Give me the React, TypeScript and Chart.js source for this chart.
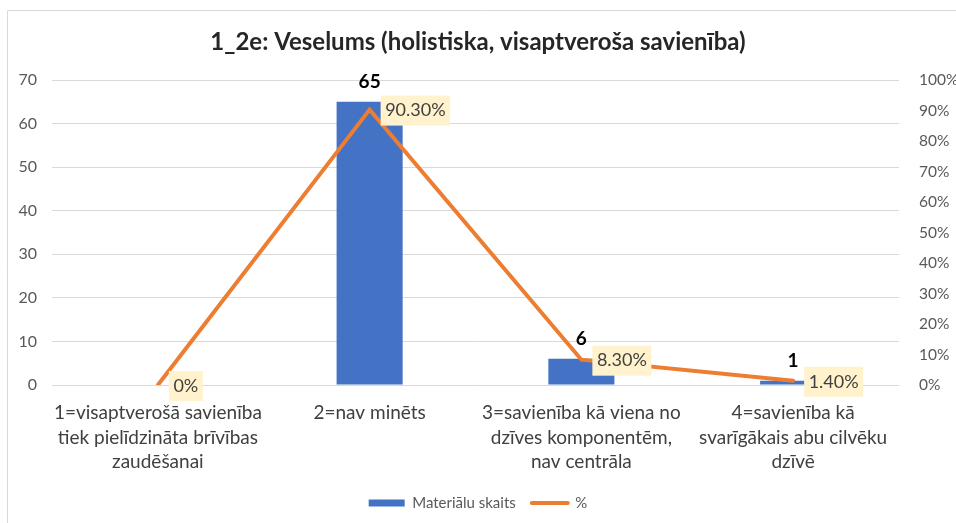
import React, { useEffect, useRef } from 'react';
import { Chart, registerables } from 'chart.js';

Chart.register(...registerables);

const TITLE = '1_2e: Veselums (holistiska, visaptveroša savienība)';
const categories: string[][] = [
  ['1=visaptverošā savienība', 'tiek pielīdzināta brīvības', 'zaudēšanai'],
  ['2=nav minēts'],
  ['3=savienība kā viena no', 'dzīves komponentēm,', 'nav centrāla'],
  ['4=savienība kā', 'svarīgākais abu cilvēku', 'dzīvē'],
];
const countLabel = 'Materiālu skaits';
const countValues = [0, 65, 6, 1];
const percentLabel = '%';
const percentValues = [0, 90.3, 8.3, 1.4];
const percentLabels = ['0%', '90.30%', '8.30%', '1.40%'];
const leftMax = 70;
const rightMax = 100;
const tickStep = 10;

const FONT = 'Lato';
const BLUE = '#4472C4';
const ORANGE = '#ED7D31';

const framePlugin = {
  id: 'frame',
  beforeDraw(chart: any) {
    const { ctx, width, height } = chart;
    ctx.save();
    ctx.fillStyle = '#ffffff';
    ctx.fillRect(0, 0, width, height);
    ctx.strokeStyle = '#d9d9d9';
    ctx.lineWidth = 1;
    ctx.beginPath();
    ctx.moveTo(7.5, height);
    ctx.lineTo(7.5, 10.5);
    ctx.lineTo(width, 10.5);
    ctx.stroke();
    ctx.restore();
  },
};

const labelPlugin = {
  id: 'valueLabels',
  afterDatasetsDraw(chart: any) {
    const ctx = chart.ctx;
    ctx.save();
    const barMeta = chart.getDatasetMeta(0);
    ctx.font = `bold 19px ${FONT}`;
    ctx.fillStyle = '#000000';
    ctx.textAlign = 'center';
    ctx.textBaseline = 'middle';
    barMeta.data.forEach((el: any, i: number) => {
      const v = countValues[i];
      if (!v) return;
      ctx.fillText(String(v), el.x, el.y - 20);
    });
    const lineMeta = chart.getDatasetMeta(1);
    ctx.font = `18px ${FONT}`;
    ctx.textAlign = 'left';
    lineMeta.data.forEach((el: any, i: number) => {
      const text = percentLabels[i];
      const w = ctx.measureText(text).width + 9;
      const h = 30;
      const x0 = el.x + 11;
      const cy = el.y + 1;
      ctx.fillStyle = '#FFF2CC';
      ctx.fillRect(x0, cy - h / 2, w, h);
      ctx.fillStyle = '#404040';
      ctx.fillText(text, x0 + 4.5, cy);
    });
    ctx.restore();
  },
};

export default function App() {
  const ref = useRef<HTMLCanvasElement | null>(null);

  useEffect(() => {
    if (!ref.current) return;
    const chart = new Chart(ref.current, {
      type: 'bar',
      data: {
        labels: categories,
        datasets: [
          {
            type: 'bar',
            label: countLabel,
            data: countValues,
            backgroundColor: BLUE,
            borderWidth: 0,
            categoryPercentage: 1,
            barPercentage: 0.312,
            yAxisID: 'y',
            order: 1,
          },
          {
            type: 'line',
            label: percentLabel,
            data: percentValues,
            borderColor: ORANGE,
            backgroundColor: ORANGE,
            borderWidth: 4,
            pointRadius: 0,
            tension: 0,
            borderCapStyle: 'round',
            yAxisID: 'y1',
            order: 0,
          },
        ],
      } as any,
      options: {
        responsive: false,
        animation: false,
        layout: { padding: { top: 0, left: 0, right: 0, bottom: 2.5 } },
        plugins: {
          title: {
            display: true,
            text: TITLE,
            color: '#262626',
            font: { family: FONT, size: 24, weight: 'bold', lineHeight: 1 },
            padding: { top: 30, bottom: 26 },
          },
          legend: {
            position: 'bottom',
            labels: {
              usePointStyle: true,
              pointStyleWidth: 36,
              boxHeight: 7,
              padding: 16,
              color: '#595959',
              font: { family: FONT, size: 15 },
              generateLabels: () => [
                {
                  text: countLabel,
                  fillStyle: BLUE,
                  strokeStyle: BLUE,
                  lineWidth: 0,
                  pointStyle: 'rect',
                  datasetIndex: 0,
                  hidden: false,
                  fontColor: '#595959',
                },
                {
                  text: percentLabel,
                  fillStyle: ORANGE,
                  strokeStyle: ORANGE,
                  lineWidth: 4,
                  lineCap: 'round',
                  pointStyle: 'line',
                  datasetIndex: 1,
                  hidden: false,
                  fontColor: '#595959',
                },
              ],
            },
          },
          tooltip: { enabled: false },
        },
        scales: {
          x: {
            offset: true,
            grid: { display: false, drawTicks: false },
            border: { display: false },
            ticks: {
              autoSkip: false,
              maxRotation: 0,
              padding: 15.75,
              color: '#404040',
              font: { family: FONT, size: 19, lineHeight: 24.5 / 19 },
            },
            afterFit: (s: any) => {
              s.height = 94.5;
            },
          },
          y: {
            position: 'left',
            min: 0,
            max: leftMax,
            ticks: {
              stepSize: tickStep,
              padding: 15,
              color: '#595959',
              font: { family: FONT, size: 16 },
            },
            grid: { color: '#d9d9d9', lineWidth: 1, drawTicks: false },
            border: { display: false },
            afterFit: (s: any) => {
              s.width = 52;
            },
          },
          y1: {
            position: 'right',
            min: 0,
            max: rightMax,
            ticks: {
              stepSize: tickStep,
              padding: 20,
              color: '#595959',
              font: { family: FONT, size: 15.5 },
              callback: (v: any) => `${v}%`,
            },
            grid: { display: false, drawTicks: false },
            border: { display: false },
            afterFit: (s: any) => {
              s.width = 57;
            },
          },
        },
      } as any,
      plugins: [framePlugin, labelPlugin],
    });
    return () => chart.destroy();
  }, []);

  return (
    <div style={{ position: 'fixed', left: 0, top: 0, width: 956, height: 523, background: '#fff' }}>
      <canvas ref={ref} width={956} height={523} style={{ display: 'block' }} />
    </div>
  );
}
